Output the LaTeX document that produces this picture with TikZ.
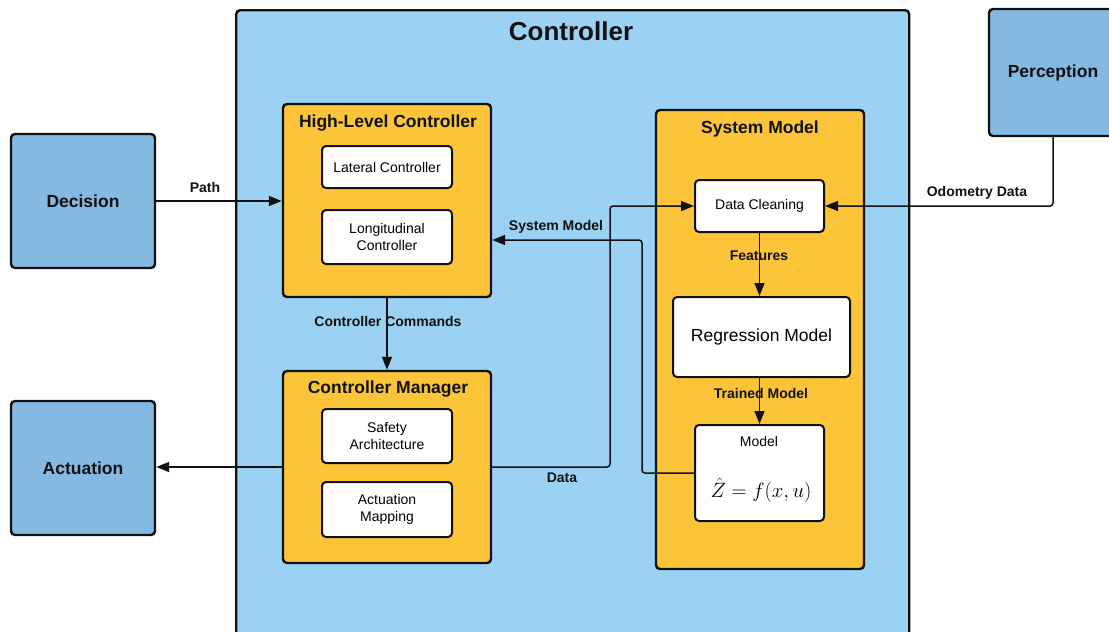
\documentclass[tikz,border=0pt]{standalone}
\usepackage[no-math]{fontspec}
\setmainfont{Liberation Sans}
\usetikzlibrary{arrows.meta}
\definecolor{ink}{HTML}{111111}
\definecolor{skyfill}{HTML}{9BD2F3}
\definecolor{modfill}{HTML}{84B9E2}
\definecolor{ambfill}{HTML}{FCC438}

\begin{document}
\begin{tikzpicture}[x=1pt,y=-1pt,
  box/.style={draw=ink,line width=2.4pt,rounded corners=4pt,inner sep=0pt},
  inbox/.style={draw=ink,fill=white,line width=2pt,rounded corners=4pt,align=center,inner sep=0pt,font=\fontsize{14}{17}\selectfont},
  lab/.style={font=\fontsize{14}{17}\selectfont\bfseries,text=ink},
  ttl/.style={font=\fontsize{17.5}{21}\selectfont\bfseries,text=ink},
  arr/.style={draw=ink,line width=1.5pt,-{Triangle[length=13pt,width=10pt]},rounded corners=3pt}]
\useasboundingbox (0,0) rectangle (1109,632);
\clip (0,0) rectangle (1109,632);

% controller frame
\node[box,fill=skyfill,minimum width=673,minimum height=680,anchor=north west] (ctrl) at (235,9) {};
\node[font=\fontsize{26}{30}\selectfont\bfseries,text=ink] (ctrltitle) at (571,31) {Controller};

% outer modules
\foreach \name/\cx/\cy/\w/\h/\lab in {%
  dec/83/201/144/134/Decision,
  act/83/468/144/134/Actuation,
  per/1053/72.5/128/127/Perception}{
  \node[box,fill=modfill,minimum width=\w,minimum height=\h,ttl] (\name) at (\cx,\cy) {\lab};
}

% high-level controller
\node[box,fill=ambfill,minimum width=208,minimum height=193] (hlc) at (387,200.5) {};
\node[ttl] (hlctitle) at (388,123) {High-Level Controller};
\node[inbox,minimum width=130,minimum height=42] (lat) at (387,167) {Lateral Controller};
\node[inbox,minimum width=130,minimum height=54] (lon) at (387,237) {Longitudinal\\Controller};

% controller manager
\node[box,fill=ambfill,minimum width=208,minimum height=192] (cm) at (387,467) {};
\node[ttl] (cmtitle) at (388,389) {Controller Manager};
\node[inbox,minimum width=130,minimum height=54] (safe) at (387,436) {Safety\\Architecture};
\node[inbox,minimum width=130,minimum height=55] (amap) at (387,509.5) {Actuation\\Mapping};

% system model
\node[box,fill=ambfill,minimum width=208,minimum height=459] (sm) at (760,339.5) {};
\node[ttl] (smtitle) at (760,129) {System Model};
\node[inbox,minimum width=129,minimum height=52] (dc) at (759.5,206) {Data Cleaning};
\node[inbox,minimum width=177,minimum height=80,font=\fontsize{17.5}{21}\selectfont] (reg) at (761.5,337) {Regression Model};
\node[inbox,minimum width=129,minimum height=96] (model) at (759.5,473) {};
\node[font=\fontsize{14}{17}\selectfont,inner sep=1pt] (modeltitle) at (759,441) {Model};
\node[font=\fontsize{22}{26}\selectfont,inner sep=0pt] (modeleq) at (761,490) {$\hat{Z}=f(x,u)$};

% connectors
\coordinate (dataup) at (610,300);
\coordinate (fb) at (642,240);
\draw[arr] (dec.east) -- (dec.east -| hlc.west);
\draw[arr] (hlc.south) -- (cm.north);
\draw[arr] (cm.west) -- (cm.west -| act.east);
\draw[arr] (cm.east) -| (dataup) |- (dc.west);
\draw[arr] (model.west) -| (fb) -- (fb -| hlc.east);
\draw[arr] (dc.south) -- (dc.south |- reg.north);
\draw[arr] (reg.south -| dc.south) -- (model.north);
\draw[arr] (per.south) |- (dc.east);

% connector labels
\node[lab] (lpath) at (205,187) {Path};
\node[lab] (lcmd) at (388,321) {Controller Commands};
\node[lab] (ldata) at (562,478) {Data};
\node[lab] (lsys) at (556,227) {System Model};
\node[lab] (lfeat) at (759,256) {Features};
\node[lab] (ltrain) at (761,393) {Trained Model};
\node[lab] (lodo) at (977,193) {Odometry Data};
\end{tikzpicture}
\end{document}
